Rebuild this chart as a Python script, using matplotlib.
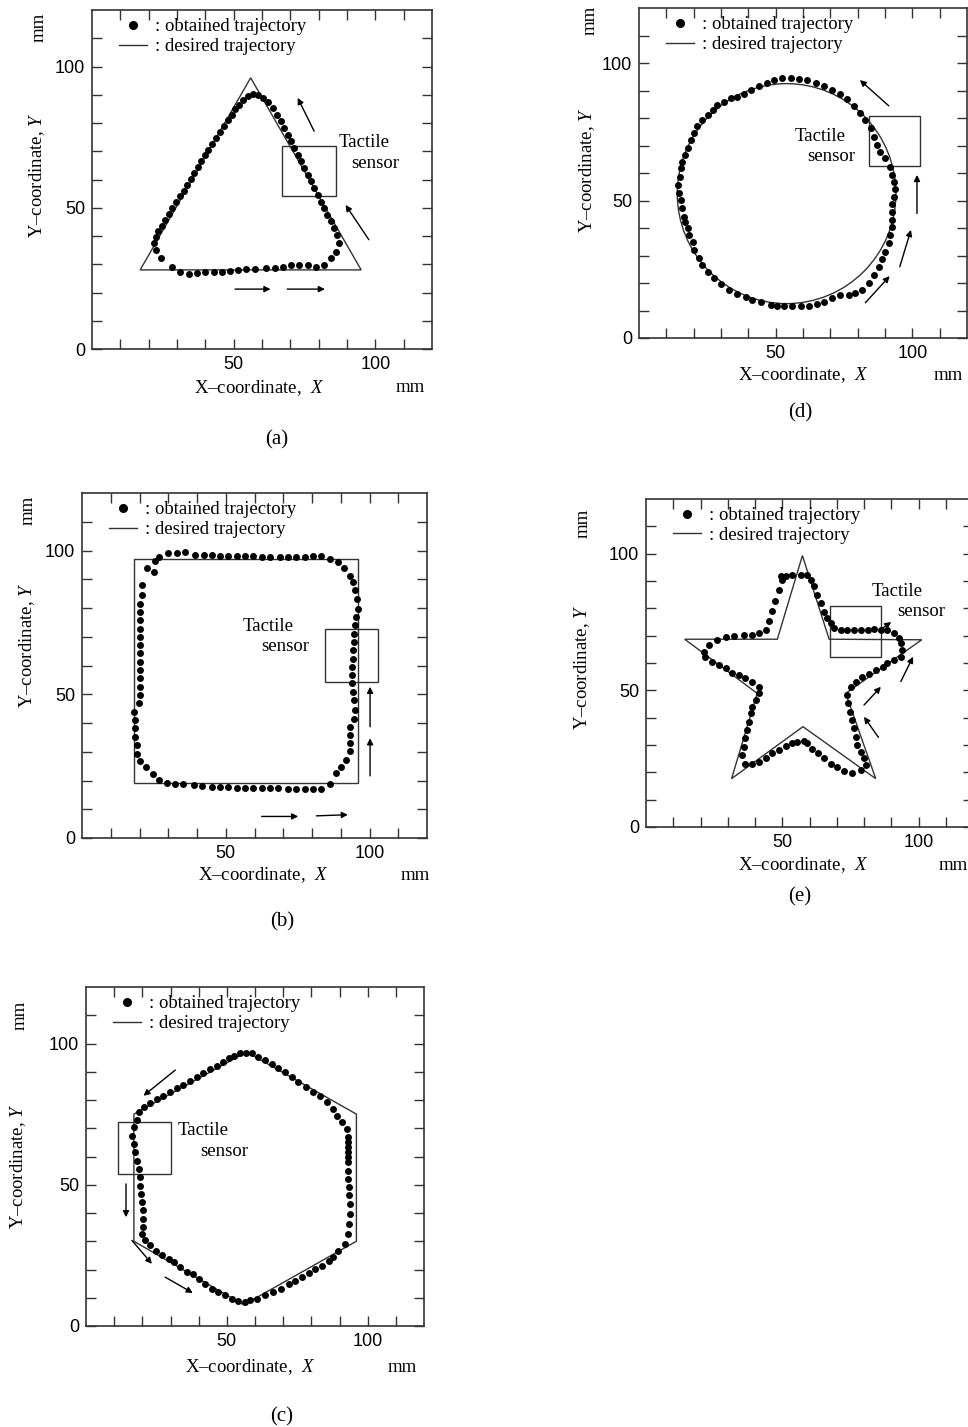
import matplotlib
matplotlib.use('Agg')
import matplotlib.pyplot as plt
from matplotlib.lines import Line2D
from matplotlib.patches import Rectangle, Polygon, Circle

plt.rcParams['font.family'] = ['Liberation Serif', 'DejaVu Serif']
plt.rcParams['mathtext.fontset'] = 'custom'
plt.rcParams['mathtext.rm'] = 'Liberation Serif'
plt.rcParams['mathtext.it'] = 'Liberation Serif:italic'

W, H = 968, 1427

# ---- (a) triangle ----
a_des_x = [17, 56, 95]
a_des_y = [28, 96, 28]
a_obs_x = [22.5, 24.2, 28.3, 31.2, 34.1, 37.1, 40.0, 42.9, 45.8, 48.7, 51.6, 54.5, 57.5, 61.5,
           64.5, 67.4, 70.3, 73.2, 76.1, 79.0, 81.9, 84.3, 86.0, 87.2,
           86.6, 85.4, 84.3, 83.1, 81.9, 80.8, 79.6, 78.4, 77.3, 76.1, 74.9, 73.8, 72.6, 71.4,
           70.3, 69.1, 67.9, 66.8, 65.4, 63.9, 62.1, 60.4, 58.6, 56.9, 55.1,
           53.4, 51.9, 50.5, 49.3, 47.9, 46.6, 45.2, 43.8, 42.5, 41.1, 40.0, 38.6, 37.4, 36.1,
           34.8, 33.6, 32.3, 31.0, 29.7, 28.4, 27.2, 25.9, 24.6, 23.4, 22.5, 21.9]
a_obs_y = [35.1, 32.2, 29.2, 27.1, 26.6, 26.8, 27.1, 27.4, 27.4, 27.7, 27.9, 28.3, 28.3, 28.5,
           28.8, 29.2, 29.8, 29.6, 29.6, 29.2, 29.8, 32.2, 34.5, 37.5,
           40.4, 42.8, 45.2, 47.5, 49.9, 52.2, 54.6, 57.0, 59.3, 61.7, 64.1, 66.4, 68.8, 71.2,
           73.5, 75.9, 78.3, 80.6, 83.0, 85.3, 87.4, 88.9, 89.8, 90.1, 89.5,
           88.3, 86.5, 84.8, 83.0, 81.0, 78.8, 76.8, 74.7, 72.7, 70.6, 68.6, 66.4, 64.4, 62.3,
           60.3, 58.2, 56.1, 54.0, 52.0, 49.9, 47.9, 45.7, 43.7, 41.6, 39.6, 37.5]
a_sensor = (67, 54, 19, 18)
a_arrows = [((89.5, 51), (97.7, 38.7)), ((72.6, 88.9), (78.4, 77.1)),
            ((63, 21.2), (50.5, 21.2)), ((82.2, 21.2), (68.9, 21.2))]
a_text = [(95.9, 73.2), (100, 65.8)]

# ---- (d) circle ----
d_center = (54, 52.5)
d_radius = 40
d_obs_x = [52.4, 55.5, 58.5, 61.6, 64.6, 67.6, 70.7, 73.7, 76.2, 78.6, 81.0, 82.8, 84.7, 85.9,
           87.1, 88.3, 90.1, 92.0, 92.6, 93.2, 93.8, 93.2, 92.6, 92.6, 92.6, 92.6, 92.0, 91.4,
           90.1, 88.9, 87.7, 85.9, 84.1, 81.6, 79.2, 76.8, 73.7, 70.7, 67.6, 65.2, 62.2, 59.1,
           56.1, 53.0, 50.6, 48.2, 44.5, 41.5, 39.1, 36.0, 33.0, 29.9, 27.5, 25.1, 23.2, 22.0,
           20.2, 19.6, 18.4, 17.8, 16.8, 16.3, 15.6, 15.3, 14.7, 14.4, 15.0, 15.3, 15.9, 16.8,
           17.8, 19.0, 20.2, 21.4, 23.2, 25.1, 26.9, 28.7, 31.1, 33.6, 36.0, 38.4, 40.9, 43.9,
           47.0, 49.4]
d_obs_y = [94.4, 94.4, 94.1, 93.8, 92.8, 91.6, 90.2, 88.6, 86.8, 84.4, 81.7, 79.3, 76.2, 73.2,
           70.2, 67.8, 65.3, 62.3, 59.3, 56.8, 54.1, 51.4, 48.7, 45.9, 42.9, 40.5, 37.5, 34.4,
           31.4, 28.6, 25.9, 22.9, 19.9, 17.5, 16.2, 15.6, 15.6, 14.4, 13.2, 12.4, 11.6, 11.6,
           11.6, 11.6, 11.6, 12.0, 13.2, 13.8, 15.0, 16.0, 17.5, 19.6, 21.7, 24.1, 26.5, 29.0,
           32.0, 35.0, 37.5, 39.9, 42.3, 44.1, 47.2, 50.2, 52.6, 55.6, 58.7, 61.7, 64.1, 66.5,
           69.2, 72.0, 74.4, 77.1, 79.3, 81.1, 82.9, 84.7, 85.9, 87.2, 87.8, 88.6, 90.2, 91.6,
           92.8, 93.8]
d_sensor = (84.1, 62.7, 18.8, 18.1)
d_arrows = [((80.8, 93.8), (91.4, 84.4)), ((101.7, 59.3), (101.7, 45.3)),
            ((99.5, 39.3), (95.4, 25.9)), ((91.7, 22.5), (82.8, 12.8))]
d_text = [(66.4, 73.2), (70.3, 65.9)]

# ---- (b) square ----
b_des_x = [18, 96, 96, 18]
b_des_y = [19, 19, 97, 97]
b_obs_x = [26.7, 29.8, 33.0, 35.9, 39.4, 42.3, 45.2, 48.0, 50.9, 53.8, 56.7, 59.6, 62.5, 65.4,
           68.8, 71.7, 74.6, 77.5, 80.4, 83.3, 86.1, 89.0, 91.3, 93.1, 94.2, 95.0, 95.7, 96.0,
           95.4, 94.8, 94.6, 94.5, 94.2, 94.2, 94.0, 93.9, 93.9, 94.2, 94.6, 94.8, 94.6, 93.1,
           93.1, 93.1, 93.1, 91.9, 90.2, 88.5, 86.1, 83.3, 80.4, 77.5, 74.6, 71.7, 68.2, 65.4,
           62.5, 59.6, 56.7, 53.8, 50.9, 48.0, 45.2, 41.7, 38.8, 35.3, 32.4, 29.6, 26.7, 24.6,
           22.3, 20.3, 19.2, 19.2, 18.6, 18.4, 18.6, 18.2, 19.7, 20.1, 20.0, 20.0, 20.0, 20.3,
           20.1, 20.3, 20.3, 20.3, 20.3, 20.3, 20.3, 20.7, 20.9, 22.6, 24.9, 25.5]
b_obs_y = [97.9, 99.1, 99.3, 99.4, 98.6, 98.3, 98.3, 98.2, 98.2, 98.2, 98.0, 98.0, 97.9, 97.9,
           97.7, 97.8, 97.9, 97.9, 98.0, 98.2, 97.1, 96.0, 94.0, 91.3, 89.0, 86.1, 83.2, 79.8,
           76.9, 74.0, 71.1, 68.2, 65.3, 62.4, 59.5, 56.6, 53.8, 50.9, 48.0, 44.5, 41.3, 38.7,
           35.8, 32.9, 30.1, 27.2, 24.6, 22.5, 18.8, 17.0, 17.0, 17.1, 17.1, 17.1, 17.3, 17.3,
           17.3, 17.3, 17.3, 17.3, 17.7, 17.7, 17.9, 18.2, 18.5, 18.7, 18.8, 19.1, 20.2, 22.3,
           24.6, 26.9, 29.2, 32.4, 35.3, 38.2, 41.0, 43.9, 46.8, 49.7, 52.6, 55.5, 58.4, 61.3,
           64.2, 67.1, 69.9, 72.8, 75.7, 78.6, 81.5, 84.4, 87.9, 94.0, 92.5, 96.5]
b_sensor = (84.6, 54.1, 18.3, 18.5)
b_arrows = [((100.2, 52.6), (100.2, 38.7)), ((100.2, 34.7), (100.2, 21.6)),
            ((75.2, 7.5), (62.5, 7.5)), ((92.5, 8.1), (81.5, 7.7))]
b_text = [(64.8, 73.4), (70.8, 66.5)]

# ---- (e) star ----
e_des_x = [57.4, 67.2, 101.2, 73.3, 84.3, 57.6, 31.4, 40.8, 14.2, 48.2]
e_des_y = [99.3, 68.7, 68.5, 48.9, 17.7, 36.7, 17.7, 48.9, 68.7, 68.7]
e_obs_x = [49.4, 51.2, 53.7, 56.7, 59.2, 60.4, 61.6, 62.9, 64.1, 65.3, 66.5, 67.8, 69.0, 71.4,
           73.9, 76.3, 78.8, 81.3, 83.7, 86.2, 88.6, 91.1, 92.9, 93.5, 94.1, 93.5, 91.1, 88.6,
           86.8, 84.3, 81.9, 79.4, 77.0, 75.1, 73.9, 74.3, 74.8, 75.5, 76.3, 77.0, 77.6, 78.8,
           80.0, 80.9, 78.8, 75.7, 72.7, 70.2, 67.8, 65.3, 63.2, 61.0, 59.2, 58.0, 55.5, 53.4,
           51.2, 48.8, 46.3, 43.9, 41.4, 39.0, 36.5, 35.3, 35.9, 36.5, 37.1, 37.7, 38.4, 39.0,
           40.2, 41.4, 41.4, 39.0, 36.5, 34.1, 31.6, 29.2, 26.7, 24.3, 21.8, 21.2, 23.0, 26.1,
           29.2, 32.2, 35.9, 39.0, 41.4, 43.9, 45.1, 46.3, 47.5, 48.8, 50.0]
e_obs_y = [91.7, 91.7, 92.3, 92.3, 92.3, 90.5, 88.0, 85.0, 81.9, 78.8, 76.4, 74.6, 72.7, 72.1,
           72.1, 72.1, 72.1, 72.1, 72.4, 72.1, 71.9, 70.9, 69.1, 67.2, 64.8, 62.3, 61.1, 59.9,
           58.7, 57.5, 56.0, 54.8, 53.2, 51.3, 48.3, 45.2, 42.2, 39.1, 36.1, 33.0, 30.0, 27.5,
           25.1, 22.6, 20.8, 19.8, 20.5, 21.8, 23.2, 25.1, 26.9, 28.7, 30.6, 31.4, 31.2, 30.6,
           29.6, 28.1, 26.9, 25.4, 23.8, 23.2, 23.2, 26.3, 29.3, 32.4, 35.5, 38.5, 41.6, 44.0,
           46.5, 48.9, 51.3, 53.2, 54.4, 55.6, 56.5, 58.1, 59.3, 60.5, 62.1, 64.2, 66.6, 68.5,
           69.4, 69.9, 70.3, 70.3, 70.9, 72.1, 75.2, 78.9, 82.5, 86.8, 90.5]
e_sensor = (67.4, 62.3, 18.8, 18.6)
e_arrows = [((80.0, 40.3), (85.3, 32.8)), ((86.2, 51.3), (80.0, 44.6)),
            ((98.0, 62.3), (93.5, 53.2)), ((90.0, 75.0), (86.5, 72.5))]
e_text = [(92.3, 86.2), (100.9, 78.9)]

# ---- (c) hexagon ----
c_des_x = [57, 96, 96, 56, 17, 17]
c_des_y = [97, 75, 30, 7.5, 30, 75]
c_obs_x = [52.4, 54.5, 56.9, 58.9, 61.2, 63.6, 66.0, 68.3, 70.7, 73.1, 75.4, 78.1, 80.7, 83.1,
           85.5, 87.6, 89.2, 90.8, 92.6, 93.1, 93.1, 93.1, 93.1, 93.1, 93.1, 93.1, 93.1, 93.4,
           93.5, 93.7, 93.7, 93.5, 93.1, 92.0, 89.6, 87.8, 86.1, 83.7, 81.3, 79.0, 76.6, 74.2,
           71.9, 69.3, 66.5, 63.6, 60.6, 58.3, 56.5, 54.1, 51.8, 49.4, 47.0, 44.7, 42.3, 40.0,
           37.9, 35.8, 33.5, 31.3, 29.3, 27.0, 24.9, 22.8, 21.0, 19.9, 20.2, 20.2, 20.2, 19.9,
           19.6, 19.3, 19.0, 18.7, 18.1, 17.5, 16.9, 16.3, 17.1, 18.1, 18.7, 20.7, 22.8, 25.2,
           27.5, 29.9, 32.3, 34.4, 36.8, 39.4, 41.7, 44.1, 46.5, 48.8, 50.9]
c_obs_y = [95.6, 96.5, 96.8, 96.5, 95.1, 94.1, 92.7, 91.5, 89.8, 88.0, 86.2, 84.5, 83.0, 81.5,
           79.2, 76.8, 74.5, 72.1, 69.7, 66.8, 65.0, 63.3, 61.5, 59.7, 58.0, 55.0, 52.1, 49.1,
           46.2, 43.2, 39.7, 36.2, 32.6, 29.1, 26.7, 24.6, 23.0, 21.4, 20.3, 18.7, 17.3, 16.1,
           14.7, 13.2, 12.0, 10.8, 9.65, 9.07, 8.5, 8.7, 9.65, 10.8, 12.0, 13.2, 15.0, 16.7,
           18.3, 19.1, 20.8, 22.6, 23.8, 25.0, 26.7, 28.5, 30.3, 32.6, 35.0, 37.9, 40.9, 43.8,
           46.8, 49.7, 52.7, 55.6, 58.5, 61.5, 64.4, 67.4, 70.3, 72.9, 75.6, 77.4, 78.8, 80.3,
           81.5, 83.0, 84.1, 85.4, 86.8, 88.2, 89.4, 90.9, 92.1, 93.5, 94.8]
c_sensor = (11.3, 53.8, 18.8, 18.5)
c_arrows = [((20.4, 81.5), (31.7, 90.6)), ((14.2, 38.5), (14.2, 50.3)),
            ((23.4, 22.0), (16.3, 30.3)), ((37.9, 11.7), (28.1, 17.3))]
c_text = [(41.7, 69.1), (49.1, 61.8)]

SANS = 'Liberation Sans'
FS = 13.5
EDGE = '#333333'


def fx(x):
    return x / W


def fy(y):
    return 1 - y / H


def panel(fig, box, obs_x, obs_y, sensor, arrows, text, lay, caption):
    l, t, r, b = box
    ax = fig.add_axes([fx(l), fy(b), (r - l) / W, (b - t) / H])
    ax.set_xlim(0, 120)
    ax.set_ylim(0, 120)
    ax.plot(obs_x, obs_y, 'o', color='black', ms=5.0, mec='none', zorder=3)
    ax.add_patch(Rectangle(sensor[:2], sensor[2], sensor[3], fill=False, ec=EDGE, lw=1.0))
    for head, tail in arrows:
        ax.annotate('', xy=head, xytext=tail,
                    arrowprops=dict(arrowstyle='-|>', color='black', lw=1.0,
                                    mutation_scale=9, shrinkA=0, shrinkB=0))
    ax.text(text[0][0], text[0][1], 'Tactile', ha='center', va='center', fontsize=FS)
    ax.text(text[1][0], text[1][1], 'sensor', ha='center', va='center', fontsize=FS)

    ax.set_xticks([50, 100])
    ax.set_yticks([0, 50, 100])
    ax.set_xticks(range(10, 120, 10), minor=True)
    ax.set_yticks(range(10, 120, 10), minor=True)
    ax.tick_params(which='both', direction='in', top=True, right=True, length=7,
                   width=1.0, color=EDGE, labelsize=13, pad=5)
    for lab in ax.get_xticklabels() + ax.get_yticklabels():
        lab.set_fontfamily(SANS)
    for s in ax.spines.values():
        s.set_color(EDGE)
        s.set_linewidth(1.2)

    handles = [Line2D([], [], ls='none', marker='o', color='black', ms=5.5),
               Line2D([], [], color=EDGE, lw=1.0)]
    ax.legend(handles, [': obtained trajectory', ': desired trajectory'],
              loc='upper left', bbox_to_anchor=(27 / (r - l), 1 - 8 / (b - t)),
              frameon=False, fontsize=FS, handlelength=1.5, handletextpad=0.4,
              borderpad=0, borderaxespad=0, labelspacing=0.15)

    xl, mx, yl, my, cp = lay
    fig.text(fx(xl[0]), fy(xl[1]), 'X\u2013coordinate,  $\\mathit{X}$', ha='center', va='center',
             fontsize=FS)
    fig.text(fx(mx[0]), fy(mx[1]), 'mm', ha='center', va='center', fontsize=FS)
    fig.text(fx(yl[0]), fy(yl[1]), 'Y\u2013coordinate, $\\mathit{Y}$', ha='center', va='center',
             rotation=90, fontsize=FS)
    fig.text(fx(my[0]), fy(my[1]), 'mm', ha='center', va='center', rotation=90, fontsize=FS)
    fig.text(fx(cp[0]), fy(cp[1]), caption, ha='center', va='center', fontsize=FS + 1.5)
    return ax


fig = plt.figure(figsize=(W / 100, H / 100), dpi=100)

ax = panel(fig, (92, 10, 432, 349), a_obs_x, a_obs_y, a_sensor, a_arrows, a_text,
           ((259, 388), (410, 388), (37, 175), (39, 27), (277, 440)), '(a)')
ax.add_patch(Polygon(list(zip(a_des_x, a_des_y)), closed=True, fill=False, ec=EDGE, lw=1.0))

ax = panel(fig, (639, 8, 967, 338), d_obs_x, d_obs_y, d_sensor, d_arrows, d_text,
           ((803, 375), (948, 375), (587, 170), (590, 20), (800, 413)), '(d)')
ax.add_patch(Circle(d_center, d_radius, fill=False, ec=EDGE, lw=1.0))

ax = panel(fig, (82, 493, 427, 838), b_obs_x, b_obs_y, b_sensor, b_arrows, b_text,
           ((263, 875), (415, 875), (27, 645), (28, 510), (282, 922)), '(b)')
ax.add_patch(Polygon(list(zip(b_des_x, b_des_y)), closed=True, fill=False, ec=EDGE, lw=1.0))

ax = panel(fig, (646, 499, 973, 827), e_obs_x, e_obs_y, e_sensor, e_arrows, e_text,
           ((803, 865), (953, 865), (582, 667), (583, 523), (800, 897)), '(e)')
ax.add_patch(Polygon(list(zip(e_des_x, e_des_y)), closed=True, fill=False, ec=EDGE, lw=1.0))

ax = panel(fig, (86, 987, 424, 1326), c_obs_x, c_obs_y, c_sensor, c_arrows, c_text,
           ((250, 1367), (402, 1368), (18, 1166), (20, 1015), (282, 1417)), '(c)')
ax.add_patch(Polygon(list(zip(c_des_x, c_des_y)), closed=True, fill=False, ec=EDGE, lw=1.0))

fig.savefig('out.png', dpi=100)
